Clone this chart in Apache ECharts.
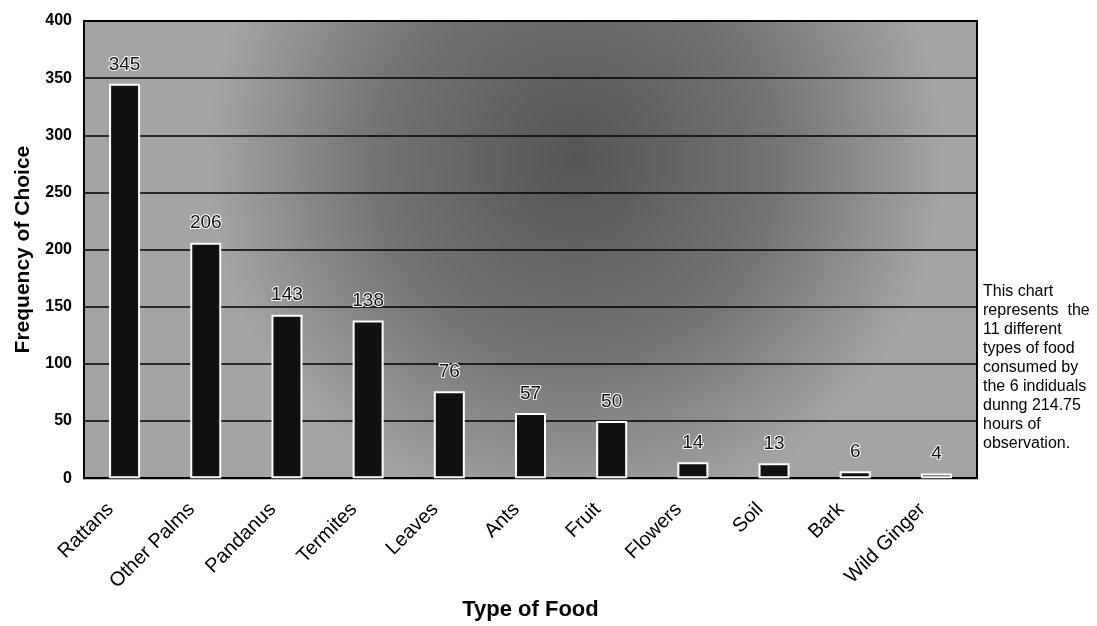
<!DOCTYPE html>
<html>
<head>
<meta charset="utf-8">
<script src="https://cdn.jsdelivr.net/npm/echarts@6/dist/echarts.min.js"></script>
<style>
html,body{margin:0;padding:0;background:#fff;}
#c{width:1097px;height:626px;}
</style>
</head>
<body>
<div id="c"></div>
<script>
const categories = ['Rattans','Other Palms','Pandanus','Termites','Leaves','Ants','Fruit','Flowers','Soil','Bark','Wild Ginger'];
const frequency = [345, 206, 143, 138, 76, 57, 50, 14, 13, 6, 4];
const yTicks = { min: 0, max: 400, interval: 50 };
const note = ['This chart','represents  the','11 different','types of food','consumed by','the 6 indiduals','dunng 214.75','hours of','observation.'];

const chart = echarts.init(document.getElementById('c'), null, {renderer:'canvas'});
const FONT = '"Liberation Sans", Arial, sans-serif';
const bg = new echarts.graphic.RadialGradient(0.55, 0.3, 0.8, [
  {offset:0, color:'#555555'},
  {offset:0.55, color:'#747474'},
  {offset:1, color:'#a4a4a4'}
]);
chart.setOption({
  animation:false,
  backgroundColor:'#ffffff',
  grid:{left:84, right:120, top:21, bottom:143, show:true, backgroundColor:bg, borderColor:'#000', borderWidth:2},
  xAxis:{
    type:'category', data:categories,
    axisLine:{show:true, lineStyle:{color:'#000', width:2}},
    axisTick:{show:false},
    axisLabel:{rotate:45, margin:14, padding:[0,20,0,0], color:'#000', fontFamily:FONT, fontSize:20, interval:0},
    name:'Type of Food', nameLocation:'middle', nameGap:119,
    nameTextStyle:{fontFamily:FONT, fontSize:22, fontWeight:'bold', color:'#000'}
  },
  yAxis:{
    type:'value', min:yTicks.min, max:yTicks.max, interval:yTicks.interval,
    axisLine:{show:true, lineStyle:{color:'#000', width:2}},
    axisTick:{show:false},
    splitLine:{show:true, lineStyle:{color:'#000', width:1.5}},
    axisLabel:{margin:12, color:'#000', fontFamily:FONT, fontSize:16, fontWeight:'bold'},
    name:'Frequency of Choice', nameLocation:'middle', nameGap:50,
    nameTextStyle:{fontFamily:FONT, fontSize:21, fontWeight:'bold', color:'#000'}
  },
  series:[{
    type:'bar', data:frequency, barWidth:31,
    itemStyle:{color:'#111111', borderColor:'#ffffff', borderWidth:2},
    label:{show:true, position:'top', distance:10, color:'#111', fontFamily:FONT, fontSize:19,
      textBorderColor:'#ffffff', textBorderWidth:2}
  }],
  graphic:[{
    type:'text', left:983, top:282,
    style:{text:note.join('\n'), fill:'#000', font:'16px "Liberation Sans", Arial, sans-serif', lineHeight:19}
  }]
});
</script>
</body>
</html>
